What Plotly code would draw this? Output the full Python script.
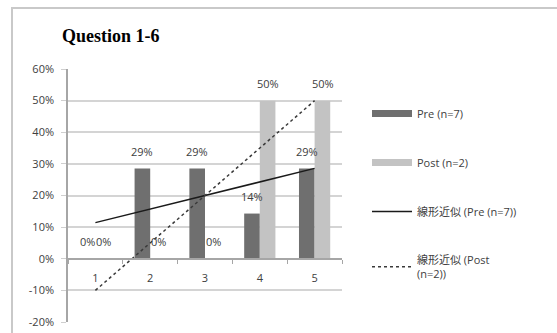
import numpy as np
import plotly.graph_objects as go

# Question 1-6 response shares, pre and post
categories = ["1", "2", "3", "4", "5"]
pre_values = [0.0, 0.2857, 0.2857, 0.1429, 0.2857]
post_values = [0.0, 0.0, 0.0, 0.5, 0.5]
pre_name = "Pre (n=7)"
post_name = "Post (n=2)"
pre_trend_name = "線形近似 (Pre (n=7))"
post_trend_name = "線形近似 (Post<br>(n=2))"
y_tick_vals = [-0.2, -0.1, 0.0, 0.1, 0.2, 0.3, 0.4, 0.5, 0.6]

PRE_COLOR = "#6f6f6f"
POST_COLOR = "#c3c3c3"
TEXT_COLOR = "#404040"
FONT = "Open Sans, Noto Sans CJK JP, sans-serif"

W, H = 557, 333
L, R, T, B = 68, 215, 69, 11

# linear least-squares trendlines over the category positions
xpos = np.arange(1, len(categories) + 1)
pre_fit = np.polyval(np.polyfit(xpos, pre_values, 1), xpos)
post_fit = np.polyval(np.polyfit(xpos, post_values, 1), xpos)

fig = go.Figure()

fig.add_trace(go.Bar(x=categories, y=pre_values, marker_color=PRE_COLOR,
                     marker_line_width=0, showlegend=False, name=pre_name))
fig.add_trace(go.Bar(x=categories, y=post_values, marker_color=POST_COLOR,
                     marker_line_width=0, showlegend=False, name=post_name))

fig.add_trace(go.Scatter(x=categories, y=pre_fit, mode="lines",
                         line=dict(color="#1a1a1a", width=1.5),
                         showlegend=False, hoverinfo="skip"))
fig.add_trace(go.Scatter(x=categories, y=post_fit, mode="lines",
                         line=dict(color="#3a3a3a", width=1.5, dash="dot"),
                         showlegend=False, hoverinfo="skip"))

# legend entries (wide swatches for the bar series)
legend_items = [
    (pre_name, dict(color=PRE_COLOR, width=7)),
    (post_name, dict(color=POST_COLOR, width=7)),
    (pre_trend_name, dict(color="#1a1a1a", width=1.5)),
    (post_trend_name, dict(color="#3a3a3a", width=1.5, dash="dot")),
]
for i, (name, line) in enumerate(legend_items):
    fig.add_trace(go.Scatter(x=[categories[0]], y=[None], mode="lines", name=name,
                             line=line, legendgroup=f"g{i}", showlegend=True,
                             hoverinfo="skip"))

# value labels above each bar (x given as category index)
annotations = []
for vals, shift in ((pre_values, -8), (post_values, 8)):
    for i, v in enumerate(vals):
        annotations.append(dict(
            x=i, y=v, xref="x", yref="y", text=f"{v:.0%}", showarrow=False,
            xshift=shift, yshift=17, font=dict(family=FONT, size=11, color=TEXT_COLOR)))

# outer frame of the chart area
px2x = lambda p: (p - L) / (W - L - R)
py2y = lambda p: (H - B - p) / (H - T - B)
shapes = [dict(type="rect", xref="paper", yref="paper",
               x0=px2x(12), x1=px2x(W + 10), y0=py2y(H + 10), y1=py2y(8),
               line=dict(color="#c9c9c9", width=2), layer="below")]

fig.update_layout(
    width=W, height=H,
    margin=dict(l=L, r=R, t=T, b=B, autoexpand=False),
    paper_bgcolor="white", plot_bgcolor="white",
    barmode="group", bargap=0.43, bargroupgap=0.0,
    font=dict(family=FONT, size=11, color=TEXT_COLOR),
    title=dict(text="<b>Question 1-6</b>", x=62 / W, xref="container", xanchor="left",
               y=1 - 36 / H, yref="container", yanchor="middle",
               font=dict(family="Liberation Serif, Times New Roman, serif", size=18, color="#000000")),
    xaxis=dict(type="category", categoryorder="array", categoryarray=categories,
               range=[-0.5, len(categories) - 0.5], automargin=False,
               anchor="free", position=py2y(259),
               showline=True, linecolor="#a6a6a6", linewidth=1.5,
               ticks="outside", tickson="boundaries", ticklen=4, tickcolor="#a6a6a6",
               showgrid=False, ticklabelstandoff=9,
               tickfont=dict(family=FONT, size=11, color=TEXT_COLOR)),
    yaxis=dict(range=[-0.2, 0.6], tickvals=y_tick_vals,
               ticktext=[f"{v:.0%}" for v in y_tick_vals],
               automargin=False, ticklabelstandoff=5,
               showline=True, linecolor="#a6a6a6", linewidth=1.5,
               ticks="outside", ticklen=5, tickcolor="#cfcfcf",
               showgrid=True, gridcolor="#d4d4d4", gridwidth=1.5, zeroline=False,
               tickfont=dict(family=FONT, size=11, color=TEXT_COLOR)),
    legend=dict(x=px2x(367), y=py2y(99), xanchor="left", yanchor="top",
                traceorder="grouped", tracegroupgap=30, itemwidth=40,
                bgcolor="rgba(0,0,0,0)",
                font=dict(family=FONT, size=11, color=TEXT_COLOR)),
    annotations=annotations,
    shapes=shapes,
)

fig.write_html("out.html")
